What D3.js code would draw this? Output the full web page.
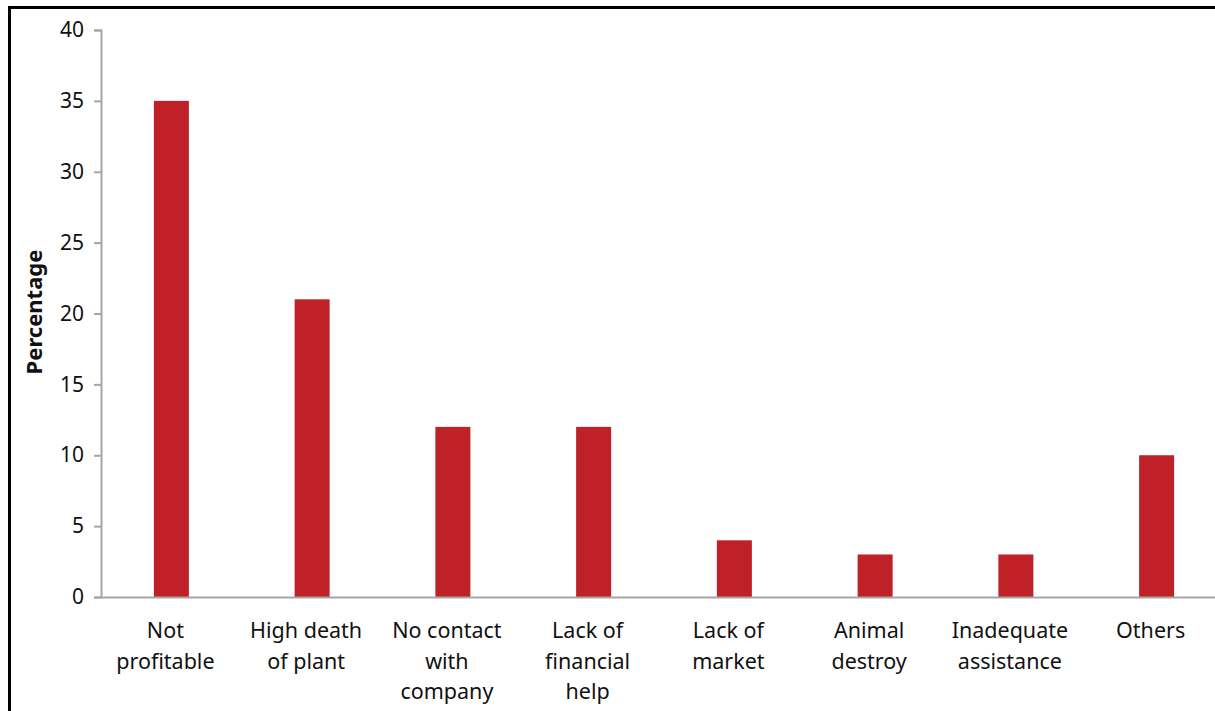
<!DOCTYPE html>
<html lang="en">
<head>
<meta charset="UTF-8">
<title>Percentage chart</title>
<script src="https://cdn.jsdelivr.net/npm/d3@7"></script>
<style>
  body { margin: 0; background: #fff; }
  text { font-family: "Noto Sans", "Open Sans", sans-serif; fill: #111; }
</style>
</head>
<body>
<div id="grafica"></div>
<script>
// data
const categories = [
  ['Not', 'profitable'],
  ['High death', 'of plant'],
  ['No contact', 'with', 'company'],
  ['Lack of', 'financial', 'help'],
  ['Lack of', 'market'],
  ['Animal', 'destroy'],
  ['Inadequate', 'assistance'],
  ['Others']
]
const values = [35, 21, 12, 12, 4, 3, 3, 10]
const yTicks = [0, 5, 10, 15, 20, 25, 30, 35, 40]

const ancho_total = 1215, alto_total = 711
const x0 = 101, x1 = 1227   // plot runs off the right edge like the original
const y0 = 597, y1 = 30

const svg = d3.select('#grafica').append('svg')
  .attr('width', ancho_total)
  .attr('height', alto_total)

// outer frame (only left and top visible)
svg.append('rect')
  .attr('x', 9.5).attr('y', 7.5)
  .attr('width', 1300).attr('height', 800)
  .attr('fill', 'none')
  .attr('stroke', '#000')
  .attr('stroke-width', 3)

const x = d3.scaleBand()
  .domain(d3.range(categories.length))
  .range([x0, x1])

const y = d3.scaleLinear()
  .domain([0, 40])
  .range([y0, y1])

const barW = 35

svg.append('g').selectAll('rect')
  .data(values)
  .join('rect')
  .attr('x', (d, i) => x(i) + x.bandwidth() / 2 - barW / 2)
  .attr('y', d => y(d))
  .attr('width', barW)
  .attr('height', d => y(0) - y(d))
  .attr('fill', '#c02027')

// y axis
const yAxis = svg.append('g')
  .attr('transform', 'translate(' + x0 + ',0)')
  .call(d3.axisLeft(y).tickValues(yTicks).tickSize(7).tickPadding(10))
yAxis.select('.domain').attr('stroke', '#a6a6a6').attr('stroke-width', 2)
yAxis.selectAll('.tick line').attr('stroke', '#a6a6a6').attr('stroke-width', 2)
yAxis.selectAll('.tick text')
  .attr('font-size', 21)
  .attr('fill', '#111')
  .style('font-family', '"Noto Sans", sans-serif')

// x axis line
const xAxis = svg.append('g')
  .attr('transform', 'translate(0,' + y0 + ')')
  .call(d3.axisBottom(x).tickSize(0).tickFormat(''))
xAxis.select('.domain').attr('stroke', '#a6a6a6').attr('stroke-width', 2)

// category labels, sitting a little left of the bar centres as in the original
const lab = svg.append('g').selectAll('text')
  .data(categories)
  .join('text')
  .attr('text-anchor', 'middle')
  .attr('font-size', 21.5)
  .attr('x', (d, i) => x(i) + x.bandwidth() / 2 - 6)
  .attr('y', 638)
lab.selectAll('tspan')
  .data(d => d)
  .join('tspan')
  .attr('x', function () { return this.parentNode.getAttribute('x') })
  .attr('dy', (d, i) => i === 0 ? 0 : 30.5)
  .text(d => d)

svg.append('text')
  .attr('transform', 'translate(42,312) rotate(-90)')
  .attr('text-anchor', 'middle')
  .attr('font-size', 22)
  .attr('font-weight', 'bold')
  .text('Percentage')
</script>
</body>
</html>
